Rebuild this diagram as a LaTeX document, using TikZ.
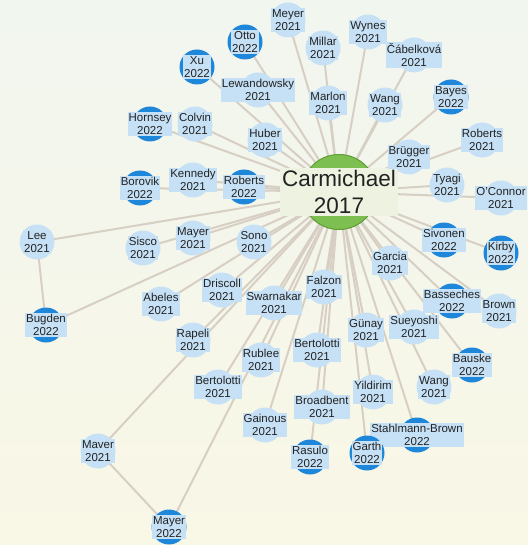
\documentclass[tikz,border=0pt]{standalone}
\usepackage{fontspec}
\setmainfont{Liberation Sans}
\usepackage{tikz}
\usepackage{xcolor}
\usetikzlibrary{backgrounds}

\begin{document}
\begin{tikzpicture}[x=1pt,y=-1pt,
  disk/.style={circle,minimum size=35,inner sep=0},
  txt/.style={fill=yr2021,inner sep=1pt,align=center,text=ink,
    font=\fontsize{11.5}{13}\selectfont},
  edge/.style={draw=wire,line width=2pt}]
\definecolor{yr2021}{HTML}{C6E1F6}
\definecolor{yr2022}{HTML}{1E87DA}
\definecolor{wire}{HTML}{D8CFC4}
\definecolor{ink}{HTML}{222222}
\definecolor{leaf}{HTML}{7DBF50}
\definecolor{leafdark}{HTML}{5E9E35}
\definecolor{paper}{HTML}{EEF2E1}
\definecolor{bgtop}{HTML}{F1F6EF}
\definecolor{bgbot}{HTML}{F9F7E6}
\useasboundingbox (0,0) rectangle (528,545);
% the paper everybody cites
\node [disk,minimum size=75,fill=leaf,draw=leafdark,line width=1pt] (c) at (339,192) {};
\node [txt,fill=paper,inner sep=2pt,font=\fontsize{22.5}{27}\selectfont] (ct) at (c) {Carmichael\\2017};
  \foreach \nm/\yr/\x/\y [count=\i] in {Otto/2022/245/42, Xu/2022/197/67,
    Lewandowsky/2021/258/90, Hornsey/2022/150/124, Colvin/2021/195/124,
    Huber/2021/265/140, Kennedy/2021/193/180, Borovik/2022/140/188,
    Roberts/2022/244/187, Lee/2021/37/242, Sisco/2021/143/248,
    Mayer/2021/193/238, Sono/2021/254/242, Bugden/2022/46/325,
    Abeles/2021/161/304, Driscoll/2021/222/290, Swarnakar/2021/274/303,
    Rapeli/2021/193/340, Rublee/2021/261/360, Bertolotti/2021/218/387,
    Gainous/2021/265/425, Maver/2021/98/451, Mayer/2022/169/527,
    Falzon/2021/324/287, Bertolotti/2021/317/350, Broadbent/2021/322/407,
    Rasulo/2022/310/457, Stahlmann-Brown/2022/417/435, Yildirim/2021/373/392,
    Günay/2021/366/330, Sueyoshi/2021/414/327, Garth/2022/367/453,
    Wang/2021/434/387, Bauske/2022/472/365, Basseches/2022/452/301,
    Brown/2021/499/311, Garcia/2021/390/263, Sivonen/2022/444/240,
    Kirby/2022/501/253, Tyagi/2021/447/185, O'Connor/2021/501/198,
    Brügger/2021/409/157, Roberts/2021/482/140, Bayes/2022/451/97,
    Wang/2021/385/105, Čábelková/2021/414/55, Wynes/2021/368/32,
    Marlon/2021/328/103, Millar/2021/323/48, Meyer/2021/288/20}
  {  \node [disk,fill=yr\yr] (d\i) at (\x,\y) {};
     \node [txt] (t\i) at (d\i) {\nm\\\yr};}
\begin{scope}[on background layer]
\shade [top color=bgtop,bottom color=bgbot] (0,0) rectangle (528,545);
  \foreach \i in {1,...,50}
  {  \draw [edge] (d\i.center) -- (c.center);}
\draw [edge] (d10.center) -- (d14.center);
\draw [edge] (d22.center) -- (d23.center);
\end{scope}
\end{tikzpicture}
\end{document}
